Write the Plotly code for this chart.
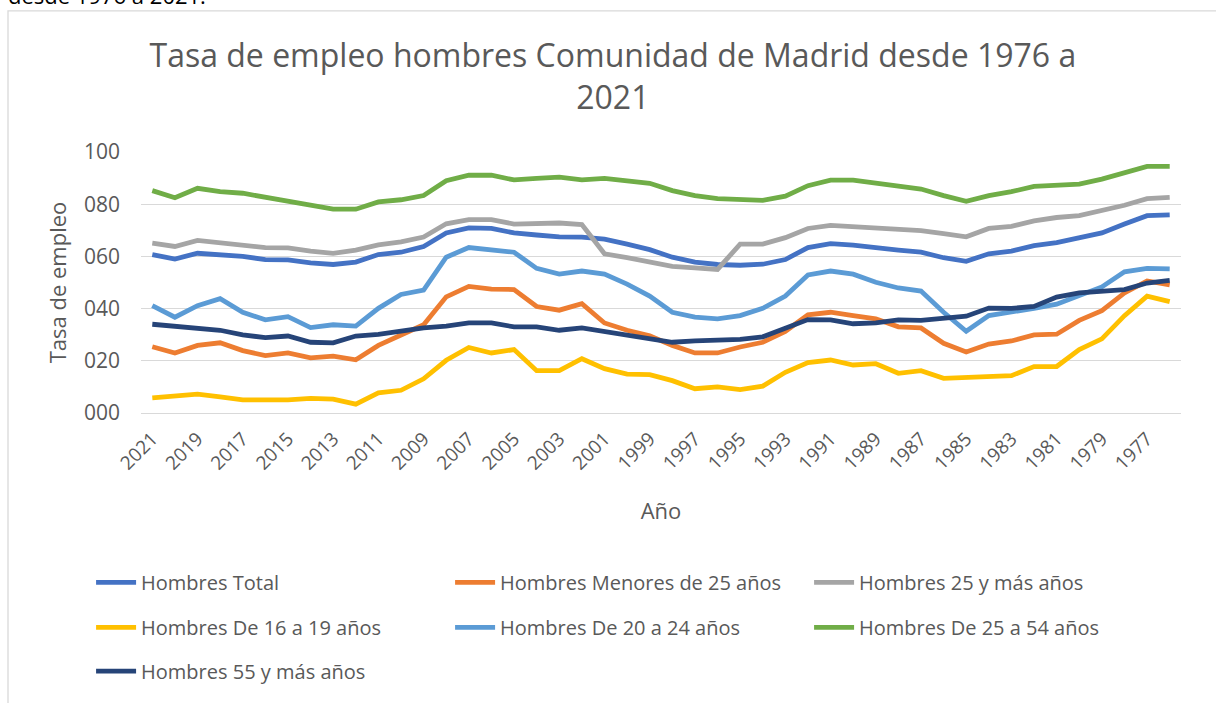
import plotly.graph_objects as go

years = list(range(2021, 1975, -1))
tick_years = years[::2]
tick_labels = [str(y) for y in tick_years]
y_ticks = [0, 20, 40, 60, 80, 100]
y_labels = ["000", "020", "040", "060", "080", "100"]

total = [60.7, 59.0, 61.2, 60.7, 60.0, 58.8, 58.7, 57.5, 56.9, 57.8, 60.7, 61.6, 63.8, 69.0, 70.9, 70.7,
         69.0, 68.2, 67.5, 67.4, 66.6, 64.7, 62.6, 59.7, 57.8, 56.9, 56.6, 57.0, 58.8, 63.4,
         64.9, 64.3, 63.2, 62.4, 61.6, 59.5, 58.1, 61.0, 62.0, 64.1, 65.3, 67.2, 69.0, 72.4, 75.6, 75.9]
menores25 = [25.4, 23.0, 25.9, 26.9, 23.9, 22.0, 23.0, 21.1, 21.8, 20.4, 25.9, 29.9, 33.8, 44.5, 48.5, 47.5,
             47.3, 40.8, 39.4, 41.9, 34.5, 31.7, 29.6, 25.9, 23.0, 23.0, 25.3, 27.1, 31.3, 37.6,
             38.6, 37.3, 36.1, 33.0, 32.6, 26.7, 23.4, 26.4, 27.6, 29.9, 30.2, 35.5, 39.2, 46.0, 50.6, 49.1]
mas25 = [65.1, 63.8, 66.1, 65.2, 64.4, 63.4, 63.3, 62.0, 61.2, 62.4, 64.4, 65.6, 67.4, 72.5, 74.1, 74.1,
         72.4, 72.8, 72.8, 72.2, 61.0, 59.5, 57.8, 56.2, 55.6, 55.0, 64.7, 64.7, 67.2, 70.7,
         71.9, 71.5, 70.9, 70.7, 69.9, 68.7, 67.5, 70.7, 71.5, 73.6, 74.9, 75.6, 77.4, 79.6, 82.1, 82.6]
de16a19 = [5.8, 6.7, 7.2, 6.2, 5.0, 5.0, 5.0, 5.6, 5.3, 3.4, 7.7, 8.7, 13.1, 20.2, 25.1, 23.0,
           24.3, 16.2, 16.2, 20.8, 17.0, 14.9, 14.7, 12.4, 9.3, 10.0, 9.0, 10.3, 15.6, 19.3,
           20.3, 18.4, 18.9, 15.2, 16.2, 13.3, 13.7, 13.7, 14.3, 17.8, 17.8, 24.3, 28.4, 37.3, 44.8, 42.7]
de20a24 = [41.1, 36.7, 41.1, 43.8, 38.6, 35.7, 36.9, 32.7, 33.8, 33.3, 40.1, 45.4, 47.1, 59.7, 63.4, 62.7,
           61.6, 55.4, 53.2, 54.4, 53.2, 49.4, 44.8, 38.6, 36.7, 36.1, 37.3, 40.1, 44.8, 52.9,
           54.4, 53.2, 50.1, 47.9, 46.7, 38.6, 31.3, 37.3, 38.6, 40.1, 41.7, 45.0, 48.3, 54.1, 55.4, 55.2]
de25a54 = [85.2, 82.5, 86.1, 84.8, 84.2, 82.6, 81.1, 79.6, 78.1, 78.1, 80.9, 81.7, 83.3, 89.0, 91.1, 91.1,
           89.3, 89.9, 90.4, 89.3, 89.9, 88.9, 88.0, 85.2, 83.3, 82.1, 81.7, 81.5, 83.1, 87.1,
           89.2, 89.2, 88.1, 87.1, 85.8, 83.3, 81.1, 83.3, 84.8, 86.8, 87.1, 87.7, 89.6, 92.1, 94.5, 94.5]
mas55 = [34.0, 33.3, 32.7, 31.7, 29.9, 28.9, 29.5, 27.1, 26.9, 29.5, 30.1, 31.3, 32.6, 33.3, 34.5, 34.5,
         33.0, 33.0, 31.7, 32.6, 31.3, 30.1, 28.4, 27.1, 27.6, 28.0, 28.2, 29.2, 32.6, 35.8,
         35.7, 34.2, 34.5, 35.7, 35.5, 36.1, 37.1, 40.2, 40.1, 40.8, 44.4, 46.0, 46.5, 47.3, 49.8, 50.8]

series = [
    ("Hombres Total", total, "#4472C4", "legend"),
    ("Hombres Menores de 25 años", menores25, "#ED7D31", "legend"),
    ("Hombres 25 y más años", mas25, "#A5A5A5", "legend"),
    ("Hombres De 16 a 19 años", de16a19, "#FFC000", "legend2"),
    ("Hombres De 20 a 24 años", de20a24, "#5B9BD5", "legend2"),
    ("Hombres De 25 a 54 años", de25a54, "#70AD47", "legend2"),
    ("Hombres 55 y más años", mas55, "#264478", "legend3"),
]

FONT = "Open Sans, Noto Sans, sans-serif"
TXT = "#595959"

fig = go.Figure()
for name, vals, color, leg in series:
    fig.add_trace(go.Scatter(x=years, y=vals, name=name, mode="lines",
                             line=dict(color=color, width=4.8), legend=leg))

leg_common = dict(orientation="h", entrywidth=304, entrywidthmode="pixels",
                  font=dict(family=FONT, size=20, color=TXT), bgcolor="rgba(0,0,0,0)",
                  xanchor="left", yanchor="middle", x=-0.048, itemwidth=40)

fig.update_layout(
    width=1216, height=703,
    margin=dict(l=141, r=35, t=152, b=283),
    paper_bgcolor="white", plot_bgcolor="white",
    font=dict(family=FONT, color=TXT),
    title=dict(text="Tasa de empleo hombres Comunidad de Madrid desde 1976 a<br>2021",
               x=0.504, xref="container", xanchor="center",
               y=1 - 67 / 703, yref="container", yanchor="middle",
               font=dict(family=FONT, size=32, color=TXT)),
    legend=dict(**leg_common, y=-0.649),
    legend2=dict(**leg_common, y=-0.821),
    legend3=dict(**leg_common, y=-0.989),
    showlegend=True,
)

fig.update_xaxes(range=[2021.5, 1975.5], tickmode="array", tickvals=tick_years, ticktext=tick_labels,
                 tickangle=-45, tickfont=dict(family=FONT, size=19, color=TXT),
                 showgrid=False, zeroline=False, showline=False, ticks="", ticklabelstandoff=10,
                 title=dict(text="Año", font=dict(family=FONT, size=22, color=TXT), standoff=29),
                 automargin=False)
fig.update_yaxes(range=[0, 100], tickmode="array", tickvals=y_ticks, ticktext=y_labels,
                 tickfont=dict(family=FONT, size=21, color=TXT),
                 showgrid=True, gridcolor="#D9D9D9", gridwidth=1,
                 zeroline=True, zerolinecolor="#D9D9D9", zerolinewidth=1,
                 showline=False, ticks="", ticklabelstandoff=20,
                 title=dict(text="Tasa de empleo", font=dict(family=FONT, size=22, color=TXT), standoff=11),
                 automargin=False)

# chart frame (Excel chart area border)
fig.add_shape(type="rect", xref="paper", yref="paper",
              x0=(8 - 141) / 1040, x1=(1240 - 141) / 1040,
              y0=(420 - 740) / 268, y1=(420 - 7) / 268,
              line=dict(color="#D9D9D9", width=1.3), fillcolor="rgba(0,0,0,0)", layer="below")

# clipped text from the surrounding document
fig.add_annotation(text="desde 1976 a 2021.", xref="paper", yref="paper",
                   x=(6 - 141) / 1040, y=(420 - 8) / 268, xanchor="left", yanchor="bottom",
                   showarrow=False, font=dict(family=FONT, size=22, color="#000000"))

fig.write_html("out.html", config={"displayModeBar": False},
               post_script="document.body.style.margin='0px';")
